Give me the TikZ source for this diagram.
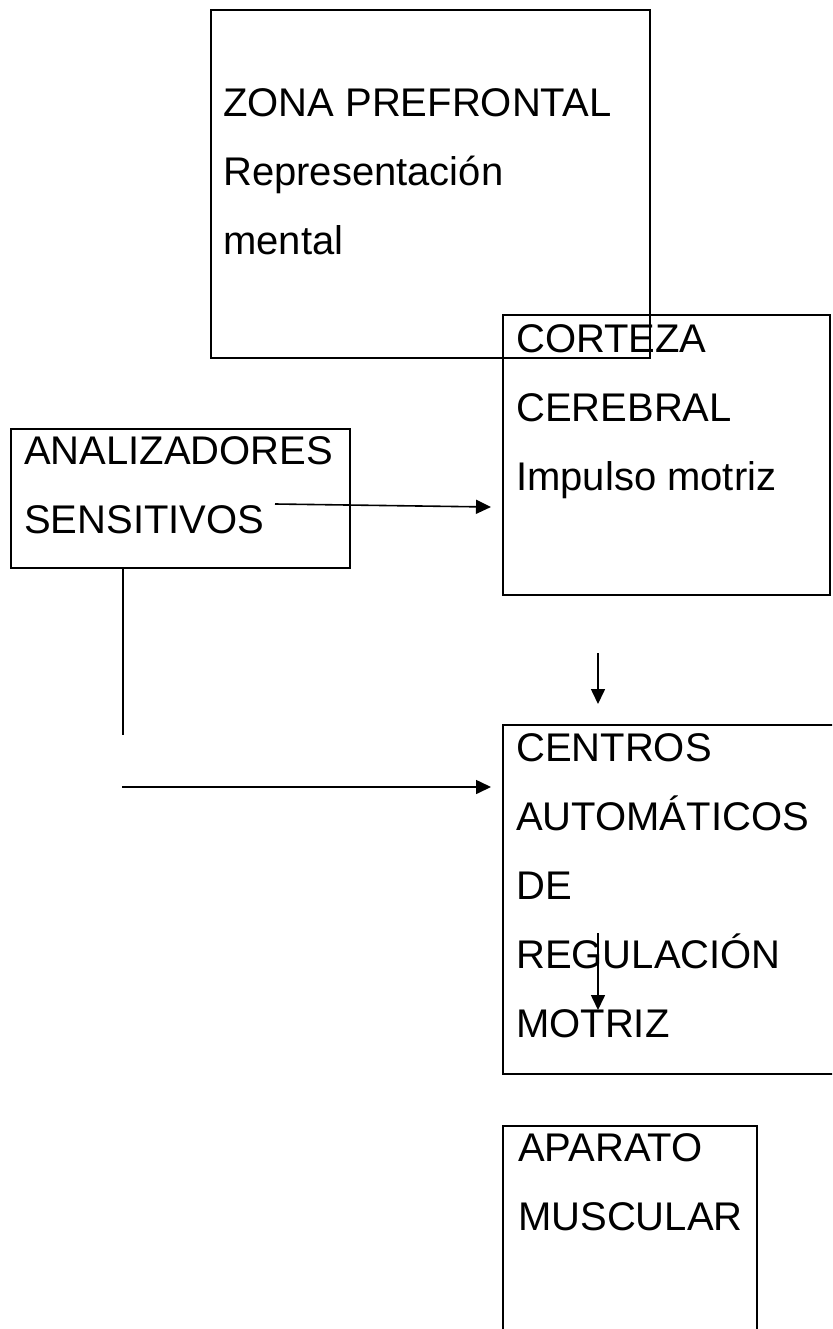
\documentclass[tikz,border=0pt]{standalone}
\usepackage{fontspec}
\setmainfont{Liberation Sans}
\usetikzlibrary{arrows.meta, positioning}
\tikzstyle{box} = [rectangle, draw, line width=2.2pt, inner sep=0pt, anchor=north west]
\tikzstyle{txt} = [align=left, inner sep=0pt, font=\fontsize{40}{69}\selectfont]
\tikzstyle{line} = [line width=1.6pt]
\tikzstyle{arrow} = [line width=1.6pt, -{Triangle[length=15pt, width=14pt]}]

\begin{document}
\begin{tikzpicture}[x=1pt, y=-1pt]
    \useasboundingbox (0,0) rectangle (832,1329);
    \clip (0,0) rectangle (832,1329);

    % Boxes
    \node (zona) [box, minimum width=439pt, minimum height=348pt] at (210,9) {};
    \node (corteza) [box, minimum width=327pt, minimum height=280pt] at (502,314) {};
    \node (ana) [box, minimum width=339pt, minimum height=139pt] at (10,428) {};
    \node (centros) [box, minimum width=345pt, minimum height=349pt] at (502,724) {};
    \node (aparato) [box, minimum width=254pt, minimum height=230pt] at (502,1125) {};

    % Texts
    \node (zonatxt) [txt, below right=79pt and 13pt of zona.north west] {ZONA PREFRONTAL\\Representación\\mental};
    \node (cortezatxt) [txt, below right=10pt and 14pt of corteza.north west] {CORTEZA\\CEREBRAL\\Impulso motriz};
    \node (anatxt) [txt, below right=8pt and 14pt of ana.north west] {ANALIZADORES\\SENSITIVOS};
    \node (centrostxt) [txt, below right=9pt and 14pt of centros.north west] {CENTROS\\AUTOMÁTICOS\\DE\\REGULACIÓN\\MOTRIZ};
    \node (aparatotxt) [txt, below right=8pt and 16pt of aparato.north west] {APARATO\\MUSCULAR};

    % Free ends
    \coordinate (anaout) at (275,504);
    \coordinate (cortezain) at (491,507);
    \coordinate (anadown) at (123,569);
    \coordinate (anacorner) at (123,735);
    \coordinate (anaside) at (122,787);
    \coordinate (centrosin) at (491,787);
    \coordinate (cortezaout) at (598,653);
    \coordinate (centrostop) at (598,704);
    \coordinate (regout) at (598,933);
    \coordinate (regin) at (598,1010);

    % Arrows
    \draw [arrow] (anaout) -- (cortezain);
    \draw [line] (anadown) -- (anacorner);
    \draw [arrow] (anaside) -- (centrosin);
    \draw [arrow] (cortezaout) -- (centrostop);
    \draw [arrow] (regout) -- (regin);

\end{tikzpicture}
\end{document}
